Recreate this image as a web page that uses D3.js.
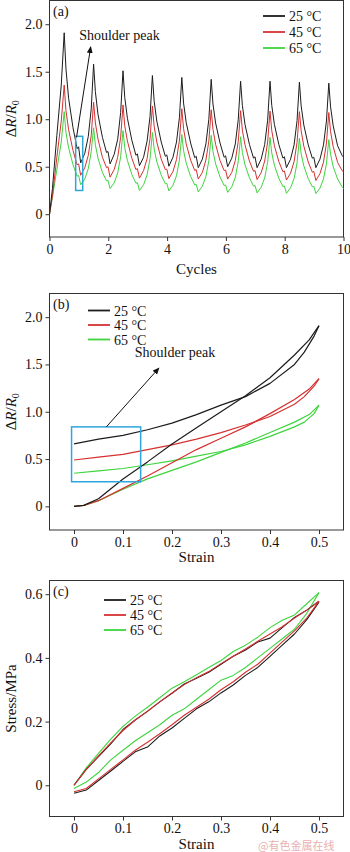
<!DOCTYPE html>
<html>
<head>
<meta charset="utf-8">
<script src="https://cdn.jsdelivr.net/npm/d3@7"></script>
<style>
  body { margin: 0; background: #fff; }
  svg { display: block; font-family: "Liberation Serif", "Times New Roman", serif; }
</style>
</head>
<body>
<svg id="chart" width="350" height="852"></svg>
<script>
// ---- data ----
const seriesNames = ["25 °C", "45 °C", "65 °C"];
const seriesColors = ["#1c1c1c", "#d63030", "#3ed43e"];

// (a) resistance change vs cycles
const cycleX = [0, 0.1, 0.25, 0.4,
  0.5, 0.56, 0.65, 0.8, 0.94, 0.99, 1.06, 1.2, 1.32, 1.42,
  1.5, 1.56, 1.65, 1.8, 1.94, 1.99, 2.06, 2.2, 2.32, 2.42,
  2.5, 2.56, 2.65, 2.8, 2.94, 2.99, 3.06, 3.2, 3.32, 3.42,
  3.5, 3.56, 3.65, 3.8, 3.94, 3.99, 4.06, 4.2, 4.32, 4.42,
  4.5, 4.56, 4.65, 4.8, 4.94, 4.99, 5.06, 5.2, 5.32, 5.42,
  5.5, 5.56, 5.65, 5.8, 5.94, 5.99, 6.06, 6.2, 6.32, 6.42,
  6.5, 6.56, 6.65, 6.8, 6.94, 6.99, 7.06, 7.2, 7.32, 7.42,
  7.5, 7.56, 7.65, 7.8, 7.94, 7.99, 8.06, 8.2, 8.32, 8.42,
  8.5, 8.56, 8.65, 8.8, 8.94, 8.99, 9.06, 9.2, 9.32, 9.42,
  9.5, 9.56, 9.65, 9.8, 9.95, 10];
const cyc25 = [0, 0.27, 0.83, 1.36,
  1.91, 1.53, 1.22, 0.91, 0.69, 0.71, 0.54, 0.64, 0.82, 1.11,
  1.58, 1.29, 1.05, 0.81, 0.65, 0.66, 0.53, 0.63, 0.79, 1.07,
  1.51, 1.23, 1.01, 0.78, 0.62, 0.635, 0.51, 0.60, 0.77, 1.03,
  1.46, 1.19, 0.98, 0.76, 0.61, 0.625, 0.505, 0.60, 0.76, 1.02,
  1.44, 1.17, 0.965, 0.75, 0.595, 0.61, 0.49, 0.58, 0.74, 1.00,
  1.42, 1.16, 0.96, 0.75, 0.60, 0.615, 0.50, 0.59, 0.74, 0.995,
  1.40, 1.145, 0.945, 0.735, 0.59, 0.605, 0.49, 0.58, 0.735, 0.99,
  1.40, 1.145, 0.945, 0.735, 0.59, 0.605, 0.49, 0.58, 0.73, 0.985,
  1.39, 1.14, 0.94, 0.73, 0.59, 0.60, 0.49, 0.58, 0.73, 0.98,
  1.38, 1.13, 0.93, 0.72, 0.62, 0.60];
const cyc45 = [0, 0.19, 0.60, 0.98,
  1.36, 1.09, 0.89, 0.67, 0.52, 0.53, 0.41, 0.49, 0.62, 0.83,
  1.18, 0.96, 0.79, 0.60, 0.49, 0.50, 0.39, 0.47, 0.60, 0.81,
  1.15, 0.93, 0.77, 0.59, 0.47, 0.48, 0.38, 0.46, 0.585, 0.80,
  1.14, 0.925, 0.76, 0.58, 0.47, 0.475, 0.375, 0.45, 0.575, 0.78,
  1.11, 0.90, 0.74, 0.57, 0.46, 0.47, 0.37, 0.44, 0.57, 0.77,
  1.10, 0.895, 0.735, 0.565, 0.46, 0.465, 0.37, 0.44, 0.565, 0.765,
  1.09, 0.885, 0.73, 0.56, 0.452, 0.46, 0.365, 0.437, 0.56, 0.76,
  1.085, 0.88, 0.72, 0.555, 0.447, 0.455, 0.36, 0.432, 0.555, 0.756,
  1.08, 0.877, 0.717, 0.55, 0.442, 0.45, 0.355, 0.427, 0.548, 0.748,
  1.07, 0.87, 0.71, 0.545, 0.46, 0.445];
const cyc65 = [0, 0.18, 0.47, 0.76,
  1.08, 0.86, 0.70, 0.52, 0.40, 0.41, 0.31, 0.37, 0.48, 0.66,
  0.91, 0.73, 0.59, 0.44, 0.35, 0.355, 0.27, 0.33, 0.435, 0.605,
  0.88, 0.70, 0.565, 0.42, 0.326, 0.332, 0.25, 0.31, 0.415, 0.585,
  0.86, 0.688, 0.553, 0.411, 0.32, 0.325, 0.245, 0.305, 0.406, 0.572,
  0.84, 0.67, 0.538, 0.398, 0.308, 0.314, 0.235, 0.295, 0.396, 0.562,
  0.83, 0.662, 0.53, 0.392, 0.302, 0.308, 0.23, 0.289, 0.388, 0.552,
  0.815, 0.65, 0.52, 0.384, 0.296, 0.302, 0.225, 0.284, 0.383, 0.547,
  0.81, 0.645, 0.515, 0.379, 0.291, 0.297, 0.22, 0.278, 0.377, 0.539,
  0.80, 0.637, 0.509, 0.375, 0.288, 0.294, 0.218, 0.275, 0.371, 0.53,
  0.785, 0.63, 0.50, 0.37, 0.29, 0.27];

// (b) resistance change vs strain, first cycle
const loadStrain = [0, 0.02, 0.05, 0.1, 0.15, 0.2, 0.25, 0.3, 0.35, 0.4, 0.45, 0.48, 0.5];
const unloadStrain = [0.5, 0.49, 0.47, 0.45, 0.4, 0.35, 0.3, 0.25, 0.2, 0.15, 0.1, 0.05, 0];
const b25Load = [0, 0.01, 0.08, 0.29, 0.47, 0.66, 0.83, 1.0, 1.17, 1.36, 1.6, 1.76, 1.91];
const b25Unload = [1.91, 1.8, 1.63, 1.5, 1.3, 1.16, 1.07, 0.97, 0.88, 0.81, 0.75, 0.71, 0.66];
const b45Load = [0, 0.01, 0.06, 0.19, 0.32, 0.46, 0.6, 0.72, 0.84, 0.98, 1.13, 1.24, 1.35];
const b45Unload = [1.35, 1.27, 1.16, 1.08, 0.95, 0.86, 0.78, 0.71, 0.65, 0.6, 0.55, 0.52, 0.49];
const b65Load = [0, 0.01, 0.06, 0.18, 0.29, 0.38, 0.47, 0.57, 0.67, 0.78, 0.89, 0.97, 1.07];
const b65Unload = [1.07, 0.98, 0.89, 0.84, 0.74, 0.65, 0.58, 0.53, 0.48, 0.44, 0.40, 0.375, 0.35];

// (c) stress vs strain
const stressStrain = [0, 0.025, 0.05, 0.075, 0.1, 0.125, 0.15, 0.175, 0.2, 0.225, 0.25,
  0.275, 0.3, 0.325, 0.35, 0.375, 0.4, 0.425, 0.45, 0.475, 0.5];
const c25Upper = [0, 0.05, 0.09, 0.13, 0.175, 0.205, 0.232, 0.262, 0.289, 0.318, 0.336,
  0.355, 0.38, 0.405, 0.425, 0.45, 0.462, 0.495, 0.527, 0.55, 0.578];
const c25Lower = [-0.025, -0.015, 0.015, 0.045, 0.075, 0.105, 0.12, 0.155, 0.18, 0.21, 0.24,
  0.262, 0.29, 0.315, 0.345, 0.37, 0.405, 0.44, 0.475, 0.52, 0.575];
const c45Upper = [0, 0.05, 0.092, 0.133, 0.172, 0.205, 0.233, 0.262, 0.29, 0.316, 0.338,
  0.357, 0.382, 0.405, 0.428, 0.452, 0.475, 0.498, 0.525, 0.55, 0.578];
const c45Lower = [-0.02, -0.01, 0.02, 0.05, 0.08, 0.11, 0.135, 0.162, 0.19, 0.22, 0.245,
  0.27, 0.3, 0.325, 0.355, 0.38, 0.415, 0.45, 0.485, 0.525, 0.578];
const c65Upper = [0, 0.055, 0.1, 0.145, 0.185, 0.217, 0.245, 0.275, 0.305, 0.325, 0.347,
  0.37, 0.392, 0.42, 0.44, 0.465, 0.495, 0.518, 0.535, 0.57, 0.605];
const c65Lower = [-0.01, 0.01, 0.04, 0.08, 0.11, 0.14, 0.165, 0.19, 0.22, 0.24, 0.27,
  0.3, 0.33, 0.345, 0.37, 0.4, 0.43, 0.46, 0.49, 0.54, 0.605];

// ticks
const ticksCycles = [0, 2, 4, 6, 8, 10];
const ticksStrain = [0, 0.1, 0.2, 0.3, 0.4, 0.5];
const ticksDR = [0, 0.5, 1.0, 1.5, 2.0];
const ticksStress = [0, 0.2, 0.4, 0.6];

// ---- drawing ----
const svg = d3.select("#chart");
const left = 49.5, right = 343.5;
const blue = "#2ea6dc";
const serif = "'Liberation Serif', 'Times New Roman', serif";

svg.append("defs").append("marker")
  .attr("id", "arrow")
  .attr("markerUnits", "userSpaceOnUse")
  .attr("markerWidth", 8).attr("markerHeight", 8)
  .attr("refX", 6).attr("refY", 3)
  .attr("orient", "auto")
  .append("path").attr("d", "M0,0 L7,3 L0,6 Z").attr("fill", "#111");

let fmtDec = d => d === 0 ? "0" : d3.format(".1f")(d);
let fmtInt = d => d3.format("d")(d);

// sets up one panel: frame, axes, panel letter, y label
let drawPanel = function (x, y, xTicks, yTicks, xFmt, xLabel, yLabel, letter, xLabelY) {
  const g = svg.append("g");
  const [yb, yt] = y.range();
  const styleAxis = a => {
    a.attr("font-family", serif).attr("font-size", 14);
    a.select(".domain").remove();
    a.selectAll("text").attr("font-family", serif).attr("font-size", "14px").attr("fill", "#111");
    a.selectAll("line").attr("stroke", "#333");
  };
  g.append("g")
    .attr("transform", `translate(0,${yb})`)
    .call(d3.axisBottom(x).tickValues(xTicks).tickSize(4).tickSizeOuter(0).tickPadding(3).tickFormat(xFmt))
    .call(styleAxis);
  g.append("g")
    .attr("transform", `translate(${left},0)`)
    .call(d3.axisLeft(y).tickValues(yTicks).tickSize(4).tickSizeOuter(0).tickPadding(3).tickFormat(fmtDec))
    .call(styleAxis);
  g.append("rect")
    .attr("x", left).attr("y", yt)
    .attr("width", right - left).attr("height", yb - yt)
    .attr("fill", "none").attr("stroke", "#333").attr("stroke-width", 1);
  g.append("text").attr("x", 53).attr("y", yt + 15)
    .attr("font-size", "14px").attr("fill", "#111").text(letter);
  g.append("text").attr("x", (left + right) / 2).attr("y", xLabelY)
    .attr("text-anchor", "middle").attr("font-size", "15px").attr("fill", "#111").text(xLabel);
  const yl = g.append("text")
    .attr("transform", `translate(16,${(yb + yt) / 2}) rotate(-90)`)
    .attr("text-anchor", "middle").attr("font-size", "15px").attr("fill", "#111");
  if (yLabel === "dR") {
    yl.append("tspan").text("Δ");
    yl.append("tspan").attr("font-style", "italic").text("R");
    yl.append("tspan").text("/");
    yl.append("tspan").attr("font-style", "italic").text("R");
    yl.append("tspan").attr("font-size", "10px").attr("dy", 3).text("0");
  } else {
    yl.text(yLabel);
  }
  return g;
};

let drawLegend = function (g, x0, y0, gap) {
  seriesNames.forEach((name, i) => {
    g.append("line")
      .attr("x1", x0).attr("x2", x0 + 22)
      .attr("y1", y0 + i * gap).attr("y2", y0 + i * gap)
      .attr("stroke", seriesColors[i]).attr("stroke-width", 1.8);
    g.append("text")
      .attr("x", x0 + 26).attr("y", y0 + i * gap + 5)
      .attr("font-size", "14px").attr("fill", "#111").text(name);
  });
};

let drawLine = function (g, xs, ys, x, y, color, width) {
  const pts = xs.map((d, i) => [d, ys[i]]);
  g.append("path")
    .datum(pts)
    .attr("fill", "none")
    .attr("stroke", color)
    .attr("stroke-width", width)
    .attr("stroke-linejoin", "round")
    .attr("d", d3.line().x(d => x(d[0])).y(d => y(d[1])));
};

// panel (a)
const xA = d3.scaleLinear().domain([0, 10]).range([left, right]);
const yA = d3.scaleLinear().domain([-0.24, 2.25]).range([237, 0.5]);
const gA = drawPanel(xA, yA, ticksCycles, ticksDR, fmtInt, "Cycles", "dR", "(a)", 274);
[cyc65, cyc45, cyc25].forEach((ys, j) => {
  drawLine(gA, cycleX, ys, xA, yA, seriesColors[2 - j], 1);
});
gA.append("rect")
  .attr("x", xA(0.89)).attr("y", yA(0.82))
  .attr("width", xA(1.13) - xA(0.89)).attr("height", yA(0.25) - yA(0.82))
  .attr("fill", "none").attr("stroke", blue).attr("stroke-width", 1.5);
gA.append("line")
  .attr("x1", xA(0.92)).attr("y1", yA(0.81))
  .attr("x2", xA(1.4)).attr("y2", yA(1.76))
  .attr("stroke", "#111").attr("stroke-width", 1).attr("marker-end", "url(#arrow)");
gA.append("text").attr("x", xA(1.01)).attr("y", yA(1.83))
  .attr("font-size", "14px").attr("fill", "#111").text("Shoulder peak");
drawLegend(gA, 263, 16, 16);

// panel (b)
const xB = d3.scaleLinear().domain([-0.05, 0.55]).range([left, right]);
const yB = d3.scaleLinear().domain([-0.25, 2.25]).range([530, 293.5]);
const gB = drawPanel(xB, yB, ticksStrain, ticksDR, fmtDec, "Strain", "dR", "(b)", 562);
[[b65Load, b65Unload, 2], [b45Load, b45Unload, 1], [b25Load, b25Unload, 0]].forEach(([ld, ul, i]) => {
  drawLine(gB, loadStrain, ld, xB, yB, seriesColors[i], 1.2);
  drawLine(gB, unloadStrain, ul, xB, yB, seriesColors[i], 1.2);
});
gB.append("rect")
  .attr("x", xB(-0.005)).attr("y", yB(0.84))
  .attr("width", xB(0.136) - xB(-0.005)).attr("height", yB(0.26) - yB(0.84))
  .attr("fill", "none").attr("stroke", blue).attr("stroke-width", 1.5);
gB.append("line")
  .attr("x1", xB(0.066)).attr("y1", yB(0.84))
  .attr("x2", xB(0.173)).attr("y2", yB(1.46))
  .attr("stroke", "#111").attr("stroke-width", 1).attr("marker-end", "url(#arrow)");
gB.append("text").attr("x", xB(0.124)).attr("y", yB(1.58))
  .attr("font-size", "14px").attr("fill", "#111").text("Shoulder peak");
drawLegend(gB, 88, 310.5, 14.5);

// panel (c)
const xC = d3.scaleLinear().domain([-0.05, 0.55]).range([left, right]);
const yC = d3.scaleLinear().domain([-0.098, 0.643]).range([816.5, 580.5]);
const gC = drawPanel(xC, yC, ticksStrain, ticksStress, fmtDec, "Strain", "Stress/MPa", "(c)", 849);
[[c65Upper, c65Lower, 2], [c25Upper, c25Lower, 0], [c45Upper, c45Lower, 1]].forEach(([up, lo, i]) => {
  drawLine(gC, stressStrain, up, xC, yC, seriesColors[i], 1.1);
  drawLine(gC, stressStrain, lo, xC, yC, seriesColors[i], 1.1);
});
drawLegend(gC, 104, 600, 15);

// watermark
svg.append("text")
  .attr("x", 258).attr("y", 850)
  .attr("font-family", "'Noto Sans CJK SC', sans-serif")
  .attr("font-size", "11px").attr("fill", "#eab0b0")
  .text("@有色金属在线");
</script>
</body>
</html>
